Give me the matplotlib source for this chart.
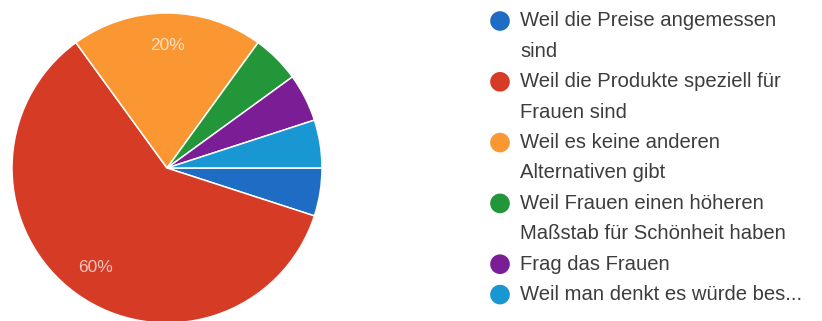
import matplotlib.pyplot as plt

# survey answers, share of respondents in percent
labels = [
    "Weil die Preise angemessen\nsind",
    "Weil die Produkte speziell für\nFrauen sind",
    "Weil es keine anderen\nAlternativen gibt",
    "Weil Frauen einen höheren\nMaßstab für Schönheit haben",
    "Frag das Frauen",
    "Weil man denkt es würde bes...",
]
shares = [5, 60, 20, 5, 5, 5]
colors = ["#1f6cc4", "#d63c25", "#fb9733", "#229639", "#7b1d94", "#1997d3"]

W, H = 822, 321
fig = plt.figure(figsize=(W / 100, H / 100), dpi=100)
plt.rcParams["font.family"] = ["Liberation Sans", "DejaVu Sans"]


# only the big slices get a percent label
def pct(p):
    return f"{p:.0f}%" if p >= 10 else ""


# pie, centre at (167, 168) px, radius 155 px
cx, cy, r = 167, 168, 155
ax = fig.add_axes([(cx - r) / W, (H - cy - r) / H, 2 * r / W, 2 * r / H])
wedges, texts, autotexts = ax.pie(
    shares, colors=colors, startangle=0, counterclock=False,
    autopct=pct, pctdistance=0.79,
    wedgeprops=dict(edgecolor="white", linewidth=1.1),
    textprops=dict(color="white", alpha=0.7, fontsize=12.5),
)
ax.set_xlim(-1, 1)
ax.set_ylim(-1, 1)
ax.set_aspect("equal")

# legend drawn by hand: dot next to the first line of each entry
lx = fig.add_axes([0, 0, 1, 1])
lx.set_xlim(0, W)
lx.set_ylim(H, 0)
lx.axis("off")
y = 21
step = 30.4
for lab, col in zip(labels, colors):
    lx.scatter(500, y, s=200, color=col, edgecolors="none")
    for line in lab.split("\n"):
        lx.text(520, y, line, fontsize=14.6, color="#3d3d3d", va="center")
        y += step

fig.savefig("out.png", dpi=100)
